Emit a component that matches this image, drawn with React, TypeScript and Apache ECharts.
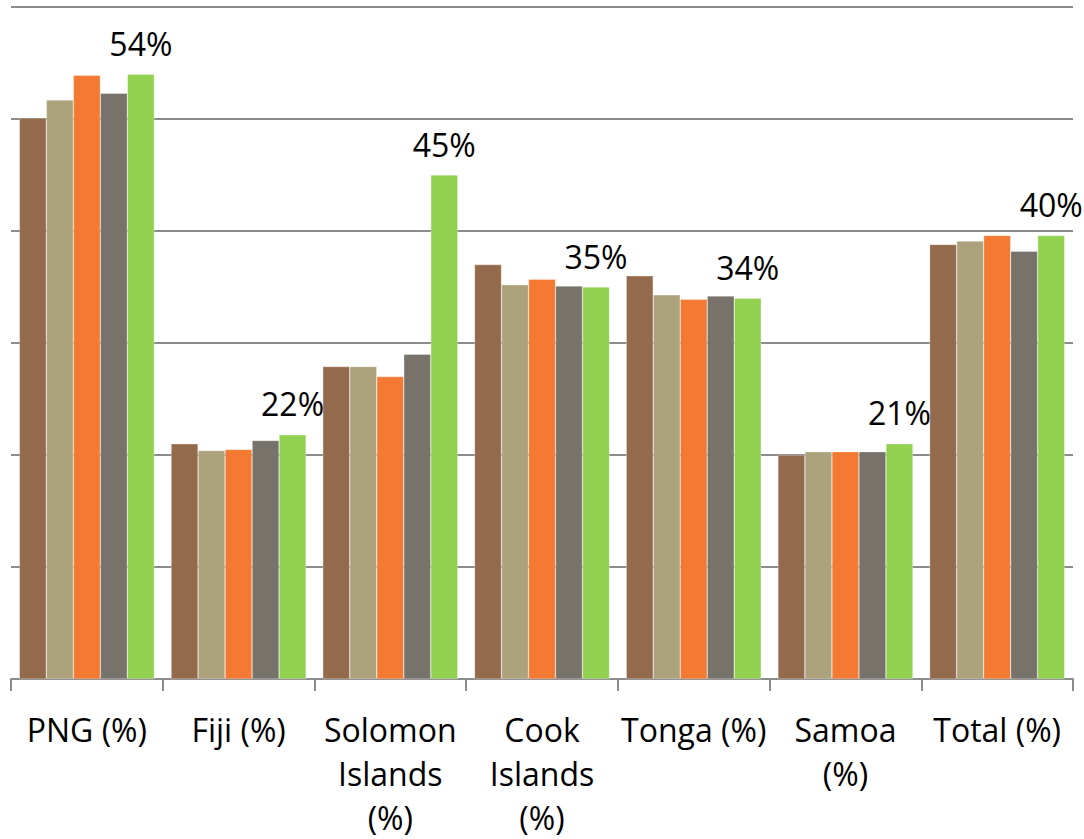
import React, { useEffect, useRef } from "react";
import * as echarts from "echarts";

const categories = [
  "PNG (%)",
  "Fiji (%)",
  "Solomon\nIslands\n(%)",
  "Cook\nIslands\n(%)",
  "Tonga (%)",
  "Samoa\n(%)",
  "Total (%)",
];

const seriesA = [50.1, 21.0, 27.9, 37.0, 36.0, 20.0, 38.8];
const seriesB = [51.7, 20.4, 27.9, 35.2, 34.3, 20.3, 39.1];
const seriesC = [53.9, 20.5, 27.0, 35.7, 33.9, 20.3, 39.6];
const seriesD = [52.3, 21.3, 29.0, 35.1, 34.2, 20.3, 38.2];
const seriesE = [54.0, 21.8, 45.0, 35.0, 34.0, 21.0, 39.6];
const labelsE = ["54%", "22%", "45%", "35%", "34%", "21%", "40%"];

const colors = ["#946A4D", "#ACA27C", "#F47A33", "#77736A", "#92D050"];
const FONT = "'Open Sans', sans-serif";

export default function App() {
  const ref = useRef<HTMLDivElement>(null);
  useEffect(() => {
    if (!ref.current) return;
    const chart = echarts.init(ref.current, undefined, { renderer: "svg" });
    const all = [seriesA, seriesB, seriesC, seriesD, seriesE];
    chart.setOption({
      animation: false,
      grid: { left: 11, right: 11, top: 7, bottom: 159, containLabel: false },
      xAxis: {
        type: "category",
        data: categories,
        axisLine: { lineStyle: { color: "#8c8c8c", width: 2 } },
        axisTick: { show: true, length: 12, lineStyle: { color: "#8c8c8c", width: 2 } },
        axisLabel: {
          interval: 0,
          color: "#000",
          fontFamily: FONT,
          fontSize: 32,
          lineHeight: 44,
          margin: 28,
        },
      },
      yAxis: {
        type: "value",
        min: 0,
        max: 60,
        interval: 10,
        axisLabel: { show: false },
        axisLine: { show: false },
        axisTick: { show: false },
        splitLine: { lineStyle: { color: "#8c8c8c", width: 2 } },
      },
      series: all.map((d, i) => ({
        type: "bar",
        data: d,
        barGap: "0%",
        barCategoryGap: "11%",
        itemStyle: { color: colors[i], borderColor: "rgba(255,255,255,0.6)", borderWidth: 0.5 },
        label:
          i === 4
            ? {
                show: true,
                position: "top",
                distance: 15,
                color: "#000",
                fontFamily: FONT,
                fontSize: 32,
                formatter: (p: any) => labelsE[p.dataIndex],
              }
            : { show: false },
      })),
    });
    return () => chart.dispose();
  }, []);
  return (
    <div
      ref={ref}
      style={{ position: "absolute", left: 0, top: 0, width: 1084, height: 839 }}
    />
  );
}
